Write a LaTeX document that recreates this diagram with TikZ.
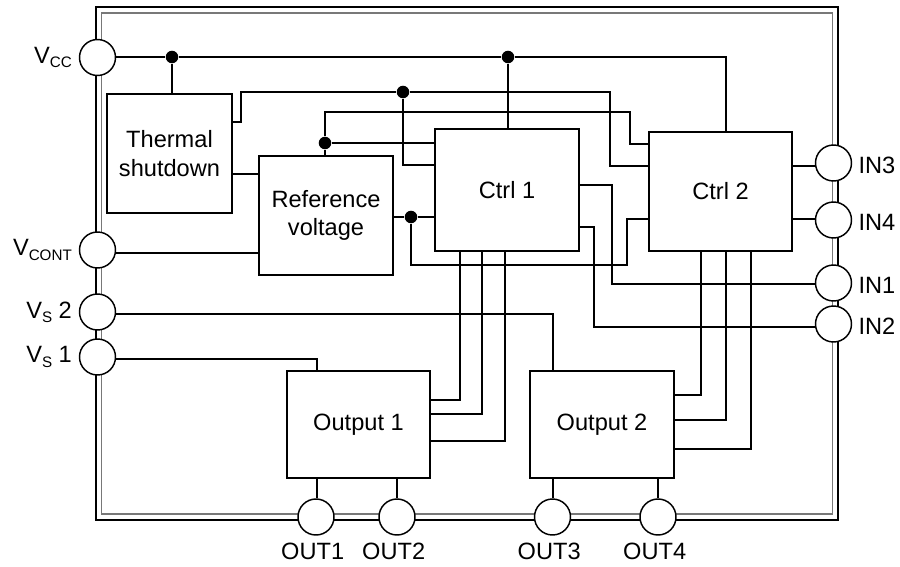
\documentclass[tikz,border=0pt]{standalone}
\usepackage{fontspec}
\setmainfont{Liberation Sans}
\usepackage{xcolor}
\usetikzlibrary{positioning}
\definecolor{rimgray}{RGB}{120,120,120}
\newcommand{\vsub}[2]{V\raisebox{-3.2pt}{\fontsize{11.4}{12}\selectfont #1}#2}
\tikzset{
  sized/.style n args={2}{minimum width=#1*.75pt,minimum height=#2*.75pt},
  blk/.style={draw,line width=1.1pt,align=center,font=\fontsize{17.7}{21.2}\selectfont,fill=white,inner sep=0pt},
  rim/.style={draw,line width=1.1pt,inner sep=0pt},
  pad/.style={draw,circle,line width=1.1pt,fill=white,minimum size=36*.75pt,inner sep=0pt},
  junc/.style={circle,fill=black,minimum size=9.4pt,inner sep=0pt},
  lbl/.style={font=\fontsize{17.7}{21.2}\selectfont,inner sep=0pt},
  wire/.style={line width=1.1pt},
}
\begin{document}
\begin{tikzpicture}[x=.75pt,y=-.75pt]
  \useasboundingbox (0,0) rectangle (900,567);
  \node[rim,sized={742}{513}] (chip) at (467,263.5) {};
  \node[rim,draw=rimgray,line width=.8pt,sized={730.5}{501}] (chipin) at (467.2,263.5) {};
  \node[blk,sized={125}{119}] (thermal) at (169.5,153.5) {Thermal\\shutdown};
  \node[blk,sized={134}{119}] (refv) at (326,215.5) {Reference\\voltage};
  \node[blk,sized={144}{122}] (ctrlone) at (507,190) {Ctrl 1};
  \node[blk,sized={143}{119}] (ctrltwo) at (720.5,191.5) {Ctrl 2};
  \node[blk,sized={143}{107}] (outone) at (358.5,424.5) {Output 1};
  \node[blk,sized={144}{107}] (outtwo) at (602,424.5) {Output 2};
  \node[pad] (vcc) at (97.5,57.5) {};
  \node[pad] (vcont) at (97.5,250) {};
  \node[pad] (vstwo) at (97.5,312) {};
  \node[pad] (vsone) at (97.5,357) {};
  \node[pad] (inthree) at (833.5,163) {};
  \node[pad] (infour) at (833.5,220) {};
  \node[pad] (inone) at (833.5,283) {};
  \node[pad] (intwo) at (833.5,324) {};
  \node[pad] (pone) at (316,517) {};
  \node[pad] (ptwo) at (397,517) {};
  \node[pad] (pthree) at (552.5,517) {};
  \node[pad] (pfour) at (658,517) {};
  \node[lbl,left=5pt of vcc] {\vsub{CC}{}};
  \node[lbl,left=5pt of vcont] {\vsub{CONT}{}};
  \node[lbl,left=5pt of vstwo] {\vsub{S}{ 2}};
  \node[lbl,left=5pt of vsone] {\vsub{S}{ 1}};
  \node[lbl,right=4.6pt of inthree,yshift=-1.5pt] {IN3};
  \node[lbl,right=4.6pt of infour,yshift=-1.5pt] {IN4};
  \node[lbl,right=4.6pt of inone,yshift=-1.5pt] {IN1};
  \node[lbl,right=4.6pt of intwo,yshift=-1.5pt] {IN2};
  \node[lbl,below=5pt of pone,xshift=-2.5pt] {OUT1};
  \node[lbl,below=5pt of ptwo,xshift=-2.5pt] {OUT2};
  \node[lbl,below=5pt of pthree,xshift=-2.5pt] {OUT3};
  \node[lbl,below=5pt of pfour,xshift=-2.5pt] {OUT4};
  \node[junc] (jvcca) at (172,57) {};
  \node[junc] (jvccb) at (508,57) {};
  \node[junc] (jtherm) at (403,92) {};
  \node[junc] (jref) at (325,143) {};
  \node[junc] (jrefout) at (411,217) {};
  \draw[wire] (vcc.east |- 0,57) -- (jvcca) -- (jvccb) -- (726,57) -- (ctrltwo.north -| 726,0);
  \draw[wire] (jvcca) -- (thermal.north -| jvcca);
  \draw[wire] (jvccb) -- (ctrlone.north -| jvccb);
  \draw[wire] (thermal.east |- 0,122) -- (241,122) -- (241,92) -- (jtherm) -- (610,92) -- (610,166) -- (ctrltwo.west |- 0,166);
  \draw[wire] (jtherm) -- (403,165) -- (ctrlone.west |- 0,165);
  \draw[wire] (thermal.east |- 0,174) -- (refv.west |- 0,174);
  \draw[wire] (refv.north -| jref) -- (jref) -- (325,112) -- (630,112) -- (630,144) -- (ctrltwo.west |- 0,144);
  \draw[wire] (jref) -- (ctrlone.west |- jref);
  \draw[wire] (refv.east |- jrefout) -- (jrefout) -- (ctrlone.west |- jrefout);
  \draw[wire] (jrefout) -- (411,265) -- (627,265) -- (627,219) -- (ctrltwo.west |- 0,219);
  \draw[wire] (vcont.east |- 0,253) -- (refv.west |- 0,253);
  \draw[wire] (vstwo.east |- 0,314) -- (553,314) -- (outtwo.north -| 553,0);
  \draw[wire] (vsone.east |- 0,359) -- (317,359) -- (outone.north -| 317,0);
  \draw[wire] (ctrlone.east |- 0,185) -- (612,185) -- (612,284) -- (inone.west |- 0,284);
  \draw[wire] (ctrlone.east |- 0,227) -- (594,227) -- (594,327) -- (intwo.west |- 0,327);
  \draw[wire] (ctrlone.south -| 460,0) -- (460,400) -- (outone.east |- 0,400);
  \draw[wire] (ctrlone.south -| 482,0) -- (482,414) -- (outone.east |- 0,414);
  \draw[wire] (ctrlone.south -| 505,0) -- (505,441) -- (outone.east |- 0,441);
  \draw[wire] (ctrltwo.south -| 701,0) -- (701,395) -- (outtwo.east |- 0,395);
  \draw[wire] (ctrltwo.south -| 726,0) -- (726,420) -- (outtwo.east |- 0,420);
  \draw[wire] (ctrltwo.south -| 751,0) -- (751,449) -- (outtwo.east |- 0,449);
  \draw[wire] (ctrltwo.east |- 0,166) -- (inthree.west |- 0,166);
  \draw[wire] (ctrltwo.east |- 0,219) -- (infour.west |- 0,219);
  \draw[wire] (outone.south -| 317,0) -- (pone.north -| 317,0);
  \draw[wire] (outone.south -| ptwo) -- (ptwo);
  \draw[wire] (outtwo.south -| 553,0) -- (pthree.north -| 553,0);
  \draw[wire] (outtwo.south -| pfour) -- (pfour);
\end{tikzpicture}
\end{document}
